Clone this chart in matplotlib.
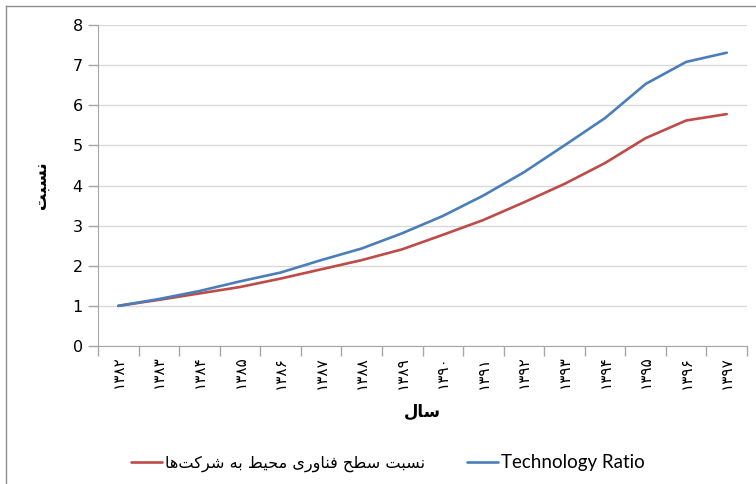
# -*- coding: utf-8 -*-
import matplotlib
matplotlib.use("Agg")
import matplotlib.pyplot as plt
from matplotlib.ticker import FixedLocator

# data
years = [1382, 1383, 1384, 1385, 1386, 1387, 1388, 1389,
         1390, 1391, 1392, 1393, 1394, 1395, 1396, 1397]
tech_ratio = [1.00, 1.17, 1.37, 1.61, 1.83, 2.14, 2.43, 2.81,
              3.24, 3.75, 4.33, 5.00, 5.68, 6.53, 7.08, 7.31]
env_ratio = [1.00, 1.15, 1.31, 1.47, 1.68, 1.91, 2.14, 2.41,
             2.77, 3.14, 3.58, 4.04, 4.56, 5.18, 5.62, 5.78]

label_env = "نسبت سطح فناوری محیط به شرکت\u200cها"
label_tech = "Technology Ratio"
xlabel = "سال"
ylabel = "نسبت"

# minimal arabic shaping: (isolated, final, initial, medial)
FORMS = {
    "ا": (0xFE8D, 0xFE8E, None, None),
    "ب": (0xFE8F, 0xFE90, 0xFE91, 0xFE92),
    "ت": (0xFE95, 0xFE96, 0xFE97, 0xFE98),
    "ح": (0xFEA1, 0xFEA2, 0xFEA3, 0xFEA4),
    "ر": (0xFEAD, 0xFEAE, None, None),
    "س": (0xFEB1, 0xFEB2, 0xFEB3, 0xFEB4),
    "ش": (0xFEB5, 0xFEB6, 0xFEB7, 0xFEB8),
    "ط": (0xFEC1, 0xFEC2, 0xFEC3, 0xFEC4),
    "ف": (0xFED1, 0xFED2, 0xFED3, 0xFED4),
    "ل": (0xFEDD, 0xFEDE, 0xFEDF, 0xFEE0),
    "م": (0xFEE1, 0xFEE2, 0xFEE3, 0xFEE4),
    "ن": (0xFEE5, 0xFEE6, 0xFEE7, 0xFEE8),
    "ه": (0xFEE9, 0xFEEA, 0xFEEB, 0xFEEC),
    "و": (0xFEED, 0xFEEE, None, None),
    "ک": (0xFB8E, 0xFB8F, 0xFB90, 0xFB91),
    "ی": (0xFBFC, 0xFBFD, 0xFBFE, 0xFBFF),
}


def shape(text):
    chars = list(text)
    out = []
    for i, c in enumerate(chars):
        if c not in FORMS:
            if c != "\u200c":
                out.append(c)
            continue
        prev = chars[i - 1] if i > 0 else None
        nxt = chars[i + 1] if i + 1 < len(chars) else None
        join_prev = prev in FORMS and FORMS[prev][2] is not None
        join_next = nxt in FORMS and FORMS[c][2] is not None
        iso, fin, ini, med = FORMS[c]
        if join_prev and join_next:
            code = med
        elif join_prev:
            code = fin
        elif join_next:
            code = ini
        else:
            code = iso
        out.append(chr(code))
    return "".join(out[::-1])


def fa_digits(n):
    return "".join(chr(0x06F0 + int(d)) for d in str(n))


plt.rcParams['font.family'] = ['DejaVu Sans']

fig = plt.figure(figsize=(7.56, 4.84), dpi=100)
ax = fig.add_axes([98 / 756, 1 - 346 / 484, (747 - 98) / 756, (346 - 25) / 484])

x = list(range(len(years)))
ax.plot(x, env_ratio, color="#BE4B48", lw=1.9, label=shape(label_env), solid_capstyle="round")
ax.plot(x, tech_ratio, color="#4A7EBB", lw=1.9, label=label_tech, solid_capstyle="round")

ax.set_xlim(-0.5, len(years) - 0.5)
ax.set_ylim(0, 8)
ax.set_yticks(range(0, 9))
ax.yaxis.grid(True, color="#d9d9d9", lw=1)
ax.set_axisbelow(True)

ax.set_xticks(x)
ax.set_xticklabels([fa_digits(y) for y in years], rotation=90, fontsize=11)
ax.xaxis.set_minor_locator(FixedLocator([i - 0.5 for i in range(len(years) + 1)]))
ax.tick_params(axis="x", which="major", length=0, pad=7)
ax.tick_params(axis="x", which="minor", length=7, color="#a6a6a6", width=1)
ax.tick_params(axis="y", length=7, color="#a6a6a6", width=1, labelsize=11.5, pad=4)

for side in ["top", "right"]:
    ax.spines[side].set_visible(False)
ax.spines["left"].set_color("#a6a6a6")
ax.spines["bottom"].set_color("#a6a6a6")

ax.set_xlabel(shape(xlabel), fontsize=12, fontweight="bold", labelpad=10)
ax.set_ylabel(shape(ylabel), fontsize=12, fontweight="bold", labelpad=16)

leg = fig.legend(loc="center", bbox_to_anchor=(388 / 756, 1 - 463 / 484), ncol=2,
                 frameon=False, fontsize=11.6, handlelength=1.9, handletextpad=0.2,
                 columnspacing=2.6)
leg.get_texts()[1].set_fontfamily("Lato")
leg.get_texts()[1].set_fontsize(13.5)

# outer chart border (cropped on right/bottom)
fig.add_artist(plt.Line2D([6 / 756, 6 / 756], [0, 1 - 6 / 484], transform=fig.transFigure,
                          color="#8c8c8c", lw=1))
fig.add_artist(plt.Line2D([6 / 756, 1], [1 - 6 / 484, 1 - 6 / 484], transform=fig.transFigure,
                          color="#8c8c8c", lw=1))

plt.savefig("out.png", dpi=100)
plt.close()
